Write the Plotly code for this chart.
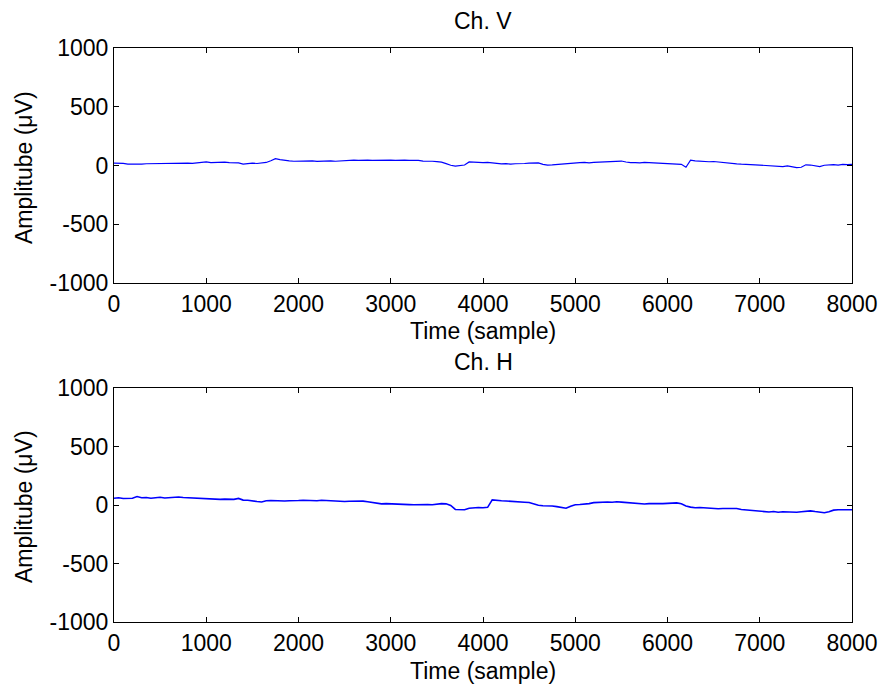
import plotly.graph_objects as go

# Sample index axis (every 50 samples, 0..8000)
samples = list(range(0, 8001, 50))

# Channel V amplitude (uV)
ch_v = [20, 22, 18, 12, 10, 13, 11, 15, 16, 14, 18, 19, 17, 22, 20, 24, 21, 18, 23, 25,
        31, 24, 27, 25, 28, 24, 26, 22, 12, 18, 20, 17, 22, 26, 40, 58, 50, 42, 40, 36,
        38, 34, 36, 40, 35, 38, 42, 40, 36, 40, 44, 42, 46, 44, 47, 45, 44, 46, 48, 45,
        46, 44, 47, 45, 43, 46, 44, 38, 34, 36, 33, 28, 16, 2, -5, 0, 4, 30, 26, 27,
        24, 26, 22, 15, 13, 16, 12, 15, 14, 17, 20, 24, 22, 10, 4, 6, 10, 14, 16, 20,
        24, 25, 27, 23, 26, 28, 25, 27, 30, 34, 38, 30, 24, 25, 22, 26, 24, 22, 25, 22,
        20, 18, 14, 10, -15, 46, 40, 36, 34, 32, 34, 30, 22, 16, 18, 14, 11, 12, 8, 6,
        4, 2, 0, -2, -6, -10, -4, -14, -18, -15, 6, 4, 0, -10, 2, 6, 8, 4, 10, 8,
        10]

# Channel H amplitude (uV)
ch_h = [58, 62, 56, 60, 58, 72, 62, 64, 58, 62, 66, 60, 64, 70, 68, 64, 62, 60, 56, 50,
        48, 50, 46, 48, 50, 46, 48, 56, 42, 40, 38, 30, 26, 36, 38, 35, 37, 34, 36, 34,
        38, 40, 37, 39, 36, 40, 38, 36, 30, 26, 30, 32, 34, 30, 33, 28, 20, 14, 10, 12,
        9, 12, 8, 5, 3, 2, 4, 1, 3, 2, 8, 12, 10, -4, -38, -42, -40, -28, -24, -22,
        -24, -20, 44, 38, 36, 34, 30, 28, 26, 24, 22, 10, -2, -6, -4, -8, -14, -24, -28, -10,
        2, 4, 6, 12, 20, 24, 22, 26, 24, 28, 25, 22, 14, 10, 12, 9, 12, 10, 8, 12,
        14, 16, 18, 10, -8, -18, -24, -22, -26, -30, -28, -32, -30, -28, -32, -30, -38, -42, -46, -50,
        -54, -58, -60, -56, -62, -58, -60, -66, -62, -58, -54, -50, -56, -62, -66, -58, -44, -40, -42, -38,
        -40]

x_ticks = [0, 1000, 2000, 3000, 4000, 5000, 6000, 7000, 8000]
y_ticks = [-1000, -500, 0, 500, 1000]
y_tick_text = ["-1000", "-500", "0", "500", "1000"]
titles = ["Ch. V", "Ch. H"]
x_title = "Time (sample)"
y_title = "Amplitube (μV)"

FONT = "Arial, Liberation Sans, Helvetica, sans-serif"
FS = 23
W, H = 882, 685
L, R, T, B = 114, 30, 48, 63
plot_h = H - T - B


def py(pix):
    """Convert a pixel row into paper y coordinate."""
    return (H - B - pix) / plot_h


def px(pix):
    """Convert a pixel column into paper x coordinate."""
    return (pix - L) / (W - L - R)


fig = go.Figure()
fig.add_trace(go.Scatter(x=samples, y=ch_v, mode="lines",
                         line=dict(color="#0000ff", width=1.2),
                         xaxis="x", yaxis="y", showlegend=False))
fig.add_trace(go.Scatter(x=samples, y=ch_h, mode="lines",
                         line=dict(color="#0000ff", width=1.6),
                         xaxis="x2", yaxis="y2", showlegend=False))

axis_common = dict(showline=True, linecolor="black", linewidth=1, mirror="allticks",
                   ticks="inside", ticklen=5, tickwidth=1, tickcolor="black",
                   showgrid=False, zeroline=False, automargin=False,
                   ticklabeloverflow="allow",
                   tickfont=dict(family=FONT, size=FS, color="black"))

fig.update_layout(
    width=W, height=H,
    margin=dict(l=L, r=R, t=T, b=B, autoexpand=False),
    paper_bgcolor="white", plot_bgcolor="white",
    xaxis=dict(domain=[0, 1], range=[0, 8000], tickvals=x_ticks, anchor="y", **axis_common),
    yaxis=dict(domain=[py(283), 1], range=[-1000, 1000], tickvals=y_ticks,
               ticktext=y_tick_text, anchor="x", **axis_common),
    xaxis2=dict(domain=[0, 1], range=[0, 8000], tickvals=x_ticks, anchor="y2", **axis_common),
    yaxis2=dict(domain=[0, py(388)], range=[-1000, 1000], tickvals=y_ticks,
                ticktext=y_tick_text, anchor="x2", **axis_common),
)

text_font = dict(family=FONT, size=FS, color="black")
annotations = [
    dict(text=titles[0], x=0.5, y=py(21)),
    dict(text=titles[1], x=0.5, y=py(362)),
    dict(text=x_title, x=0.5, y=py(331)),
    dict(text=x_title, x=0.5, y=py(671)),
    dict(text=y_title, x=px(24), y=py(168), textangle=-90),
    dict(text=y_title, x=px(24), y=py(507), textangle=-90),
]
for a in annotations:
    fig.add_annotation(xref="paper", yref="paper", showarrow=False,
                       xanchor="center", yanchor="middle", font=text_font, **a)

fig.write_html("out.html")
